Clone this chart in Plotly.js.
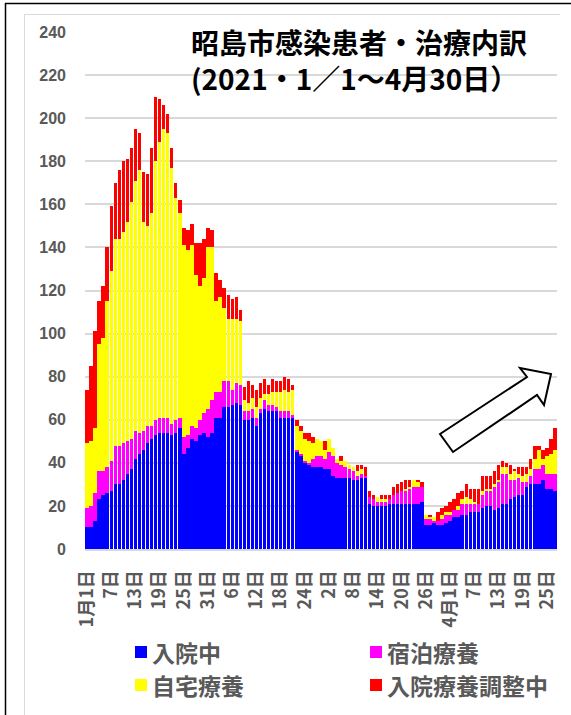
<!DOCTYPE html>
<html><head><meta charset="utf-8">
<script src="https://cdn.plot.ly/plotly-3.0.1.min.js"></script>
<style>html,body{margin:0;padding:0;background:#fff}#chart{width:571px;height:715px}</style>
</head><body><div id="chart"></div>
<script>
// 入院中
const inpatient = [10,10,13,23,25,26,27,30,30,32,
 35,37,42,44,46,49,51,53,54,54,
 54,53,54,56,44,47,51,50,53,54,
 52,54,61,61,66,66,67,68,67,60,
 60,61,57,63,65,64,64,64,61,61,
 61,61,45,43,40,39,38,38,38,37,
 37,34,33,33,33,33,32,32,33,33,
 21,20,20,20,20,21,21,21,21,21,
 21,21,21,22,11,11,12,11,11,12,
 13,15,15,16,16,17,17,17,19,20,
 20,18,19,21,21,23,24,25,25,29,
 30,30,30,32,28,28,27];
// 宿泊療養
const hotel = [9,10,13,13,11,12,14,18,18,17,
 15,14,13,10,9,8,6,7,7,7,
 7,5,6,5,8,6,6,6,7,9,
 13,15,12,12,12,12,7,9,9,4,
 4,4,4,2,4,3,3,2,3,3,
 3,1,1,1,1,1,4,5,5,5,
 8,9,7,6,5,4,4,2,2,1,
 3,3,2,2,2,2,4,5,6,6,
 7,8,8,7,3,3,1,2,3,4,
 3,3,3,5,5,4,4,4,6,7,
 7,11,12,14,14,9,8,8,6,2,
 4,7,7,7,7,7,8];
// 自宅療養
const home = [30,30,30,59,62,77,88,96,96,98,
 102,110,116,122,97,93,99,120,128,134,
 132,119,103,95,89,86,84,71,62,63,
 75,71,42,44,34,29,33,30,30,5,
 4,5,5,5,3,5,6,7,9,10,
 9,12,11,11,10,10,7,8,7,4,
 6,4,2,2,3,2,2,2,2,0,
 0,0,2,1,1,0,0,0,0,1,
 1,3,2,0,2,1,2,0,2,1,
 1,0,2,2,3,2,1,0,2,1,
 1,1,1,3,3,3,4,2,3,4,
 3,5,9,3,8,9,11];
// 入院療養調整中
const adjusting = [25,35,45,20,24,25,30,26,32,33,
 29,25,24,17,23,24,30,30,20,11,
 9,9,7,6,8,9,10,15,20,18,
 9,8,13,8,9,11,9,10,5,6,
 10,6,8,7,7,4,6,5,5,6,
 6,2,3,2,3,4,3,0,0,4,
 0,0,0,2,0,0,0,3,2,4,
 3,2,0,2,2,2,4,4,4,4,
 3,0,1,2,0,1,0,4,3,3,
 5,5,6,4,6,5,6,7,7,6,
 6,6,7,3,2,4,1,3,4,3,
 5,6,2,4,4,7,10];

const seriesNames = ['入院中','宿泊療養','自宅療養','入院療養調整中'];
const seriesColors = ['#0000ff','#ff00ff','#ffff00','#ff0000'];
const tickDates = ['1/1','1/7','1/13','1/19','1/25','1/31','2/6','2/12','2/18','2/24','3/2','3/8','3/14','3/20','3/26','4/1','4/7','4/13','4/19','4/25'];
const tickLabels = ['1月1日','7日','13日','19日','25日','31日','6日','12日','18日','24日','2日','8日','14日','20日','26日','4月1日','7日','13日','19日','25日'];
const titleLines = ['昭島市感染患者・治療内訳','(2021・1／1～4月30日）'];

const monthDays = [31,28,31,30];
const allDates = [];
for (let m = 0; m < 4; m++) for (let d = 1; d <= monthDays[m]; d++) allDates.push((m+1) + '/' + d);
const categories = allDates.slice(0, inpatient.length);

const seriesValues = [inpatient, hotel, home, adjusting];
const traces = seriesValues.map((vals, i) => ({
  type: 'bar', x: categories, y: vals, name: seriesNames[i],
  marker: {color: seriesColors[i], line: {width: 0}}, showlegend: false
}));

// pixel helpers for decorations
const L = 85, T = 32, W = 472, H = 517;
const px = x => (x - L) / W;
const py = y => (T + H - y) / H;

const CJK = '"Noto Sans CJK JP", "Noto Sans", sans-serif';
const gray = '#595959';

const annotations = [];
annotations.push({xref:'paper', yref:'paper', x:px(189), y:py(60), xanchor:'left', yanchor:'middle', align:'left', showarrow:false,
  text:titleLines.join('<br>'), font:{family:CJK, size:28, color:'#000', weight:'bold'}});

const legendPos = [[135,652],[370,652],[135,685],[370,685]];
const shapes = [];
legendPos.forEach((p, i) => {
  shapes.push({type:'rect', xref:'paper', yref:'paper', x0:px(p[0]), x1:px(p[0]+12), y0:py(p[1]-6), y1:py(p[1]+6),
    fillcolor:seriesColors[i], line:{width:0}});
  annotations.push({xref:'paper', yref:'paper', x:px(p[0]+15), y:py(p[1]), xanchor:'left', yanchor:'middle', showarrow:false,
    text:seriesNames[i], font:{family:CJK, size:23, color:gray, weight:'bold'}});
});

// hollow arrow
const arrowPts = [[440,434],[527,377],[520,368],[551,374],[544,405],[537,395],[453,452]];
shapes.push({type:'path', xref:'paper', yref:'paper',
  path: 'M' + arrowPts.map(p => px(p[0]).toFixed(5) + ',' + py(p[1]).toFixed(5)).join(' L') + ' Z',
  fillcolor:'#ffffff', line:{color:'#000', width:2}, layer:'above'});

// frames
shapes.push({type:'line', xref:'paper', yref:'paper', x0:px(5.5), x1:px(5.5), y0:py(3), y1:py(715), line:{color:'#000', width:1.5}});
shapes.push({type:'line', xref:'paper', yref:'paper', x0:px(5), x1:px(571), y0:py(3.5), y1:py(3.5), line:{color:'#000', width:1.5}});
shapes.push({type:'line', xref:'paper', yref:'paper', x0:px(24.5), x1:px(24.5), y0:py(14), y1:py(715), line:{color:'#d9d9d9', width:1}});
shapes.push({type:'line', xref:'paper', yref:'paper', x0:px(24), x1:px(560), y0:py(14.5), y1:py(14.5), line:{color:'#d9d9d9', width:1}});

const layout = {
  width: 571, height: 715,
  margin: {l: L, r: 571 - L - W, t: T, b: 715 - T - H, pad: 0},
  paper_bgcolor: '#fff', plot_bgcolor: '#fff',
  barmode: 'stack', bargap: 0.15,
  showlegend: false,
  xaxis: {
    type: 'category', range: [-0.5, categories.length - 0.5],
    tickmode: 'array', tickvals: tickDates, ticktext: tickLabels,
    tickangle: -90, ticks: '', ticklabelstandoff: 12,
    tickfont: {family: CJK, size: 18, color: gray, weight: 'bold'},
    showgrid: false, showline: true, linecolor: '#d9d9d9', linewidth: 2, zeroline: false, fixedrange: true
  },
  yaxis: {
    range: [0, 240], tick0: 0, dtick: 20, ticks: '', ticklabelstandoff: 18,
    tickfont: {family: '"Liberation Sans", Arial, sans-serif', size: 16, color: gray, weight: 'bold'},
    gridcolor: '#d9d9d9', gridwidth: 2, zeroline: false, showline: false, fixedrange: true
  },
  annotations: annotations,
  shapes: shapes
};

Plotly.newPlot('chart', traces, layout, {staticPlot: true, displayModeBar: false});
</script></body></html>
